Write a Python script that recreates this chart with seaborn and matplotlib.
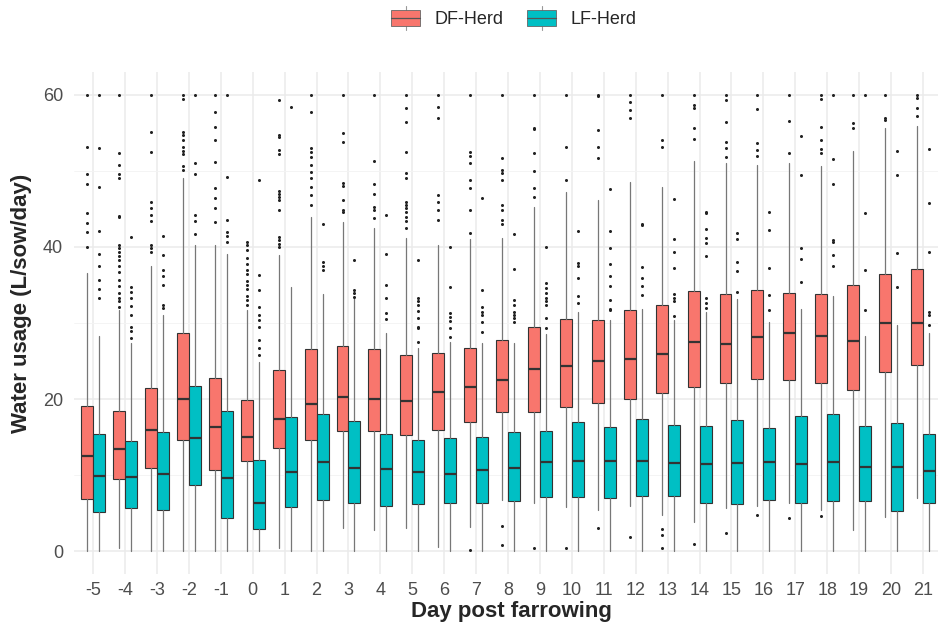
import matplotlib
matplotlib.use("Agg")
import matplotlib.pyplot as plt
from matplotlib.patches import Rectangle
from matplotlib.lines import Line2D
from matplotlib.legend_handler import HandlerBase
import seaborn as sns

# day post farrowing
days = list(range(-5, 22))

# DF herd box stats (L/sow/day)
df_q1 = [6.8, 9.5, 10.9, 14.6, 10.7, 11.9, 13.5, 14.6, 15.8, 15.8, 15.3, 15.9, 17.0, 18.3,
         18.3, 18.9, 19.5, 20.0, 20.8, 21.6, 22.1, 22.6, 22.5, 22.1, 21.2, 23.6, 24.5]
df_med = [12.5, 13.4, 15.9, 20.0, 16.3, 15.0, 17.4, 19.3, 20.3, 20.0, 19.7, 20.9, 21.6, 22.5,
          23.9, 24.3, 25.0, 25.3, 25.9, 27.5, 27.2, 28.2, 28.7, 28.3, 27.6, 30.0, 30.0]
df_q3 = [19.1, 18.4, 21.4, 28.7, 22.8, 19.9, 23.8, 26.6, 27.0, 26.6, 25.8, 26.1, 26.7, 27.7,
         29.5, 30.5, 30.4, 31.7, 32.4, 34.2, 33.8, 34.3, 33.9, 33.8, 35.0, 36.4, 37.1]
df_lo = [0, 0.4, 0, 0, 0, 0, 0.4, 0, 3.0, 2.8, 3.0, 0.5, 3.2, 6.7,
         6.3, 5.8, 5.4, 5.9, 4.7, 3.8, 5.7, 5.9, 6.3, 5.4, 2.8, 4.5, 7.0]
df_hi = [36.6, 31.7, 37.5, 49.1, 40.3, 31.7, 38.9, 43.9, 43.3, 42.5, 41.2, 40.3, 41.1, 41.2,
         45.3, 47.2, 46.2, 48.6, 47.9, 51.3, 51.0, 50.8, 51.0, 50.7, 52.6, 55.7, 55.9]
df_out = [
    [60, 53.2, 49.6, 48.3, 44.5, 43.2, 41.9, 40],
    [60, 52.4, 50.8, 49.6, 49, 44.1, 43.9, 40.3, 39.8, 39.3, 38.8, 38.3, 37.5, 36.7, 35.7,
     34.9, 33.9, 33.3, 32.9, 32.1],
    [60, 55.1, 52.5, 45.9, 45.1, 44.2, 43.4, 40.3, 39.9, 39.3],
    [60, 59.5, 55.1, 54.7, 54.1, 53.2, 52.6, 52.2, 50.7, 50.1],
    [60, 57.8, 55.8, 54.1, 51.2, 47.8, 46.4, 45.1, 43.3],
    [40.7, 40.2, 39.6, 38.6, 37.8, 37.0, 36.4, 35.5, 35.0, 34.5, 33.6, 33.0, 32.4],
    [59.3, 54.7, 54.4, 52.8, 52.2, 47.4, 47.0, 46.6, 46.2, 44.9, 41.3, 40.9, 40.4, 40.0],
    [60, 57.8, 53.0, 52.5, 51.8, 50.8, 49.9, 49.1, 47.9, 46.8, 45.5],
    [60, 55.0, 53.8, 48.4, 48.0, 46.2, 44.9, 44.6],
    [60, 51.3, 48.3, 47.0, 45.3, 44.9, 43.8],
    [60, 58.3, 56.4, 52.5, 49.7, 49.1, 45.9, 45.5, 45.1, 44.6, 44.0, 43.4, 42.5],
    [60, 58.4, 57.0, 46.8, 45.9, 44.9, 43.6],
    [60, 52.5, 51.9, 51.0, 48.8, 47.7, 44.9, 41.8, 0.1],
    [60, 51.7, 50.1, 49.7, 48.8, 45.5, 44.9, 43.6, 43.0, 3.3, 0.8],
    [60, 55.7, 55.5, 52.4, 50.0, 47.8, 46.6, 0.4],
    [60, 53.2, 48.8, 0.4],
    [60, 59.9, 55.4, 53.2, 51.7, 3.0],
    [60, 59.0, 58.0, 57.0, 1.8],
    [60, 54.1, 53.2, 2.9, 2.1, 0.4],
    [60, 58.6, 58.3, 55.7, 54.2, 0.9],
    [60, 59.3, 56.4, 53.8, 53.0, 51.8, 2.4],
    [60, 58.2, 53.6, 52.8, 52.0, 4.7],
    [60, 56.6, 52.4, 4.3],
    [60, 59.5, 55.8, 54.1, 52.9, 52.4, 4.6],
    [60, 56.3, 55.7],
    [60, 57.0, 56.7],
    [60, 59.6, 58.3, 57.2],
]

# LF herd box stats
lf_q1 = [5.1, 5.7, 5.4, 8.7, 4.3, 2.9, 5.8, 6.7, 6.4, 5.9, 6.2, 6.4, 6.3, 6.6,
         7.1, 7.1, 7.0, 7.2, 7.2, 6.3, 6.2, 6.7, 6.3, 6.6, 6.6, 5.3, 6.4]
lf_med = [9.9, 9.7, 10.1, 14.9, 9.6, 6.4, 10.4, 11.7, 11.0, 10.8, 10.4, 10.1, 10.7, 10.9,
          11.7, 11.8, 11.8, 11.8, 11.6, 11.5, 11.6, 11.7, 11.4, 11.7, 11.1, 11.1, 10.5]
lf_q3 = [15.4, 14.5, 15.7, 21.7, 18.4, 12.0, 17.6, 18.0, 17.1, 15.4, 14.6, 14.9, 15.0, 15.7,
         15.8, 17.0, 16.3, 17.4, 16.6, 16.4, 17.2, 16.2, 17.8, 18.0, 16.4, 16.8, 15.4]
lf_lo = [0] * 27
lf_hi = [28.3, 27.4, 31.0, 40.3, 39.1, 24.9, 34.7, 33.8, 33.3, 28.7, 26.7, 27.5, 27.4, 27.4,
         28.6, 31.4, 30.4, 31.8, 30.4, 31.4, 33.2, 30.1, 31.8, 33.6, 28.3, 29.7, 28.7]
lf_out = [
    [60, 53.0, 47.9, 42.1, 39.1, 37.5, 35.7, 34.5, 33.3],
    [41.3, 34.7, 34.1, 33.3, 32.3, 31.0, 29.5, 28.9, 28.0],
    [41.4, 38.9, 37.0, 36.2, 35.0, 32.4, 32.0],
    [60, 51.0, 49.6, 44.2, 43.4, 41.7],
    [60, 49.2, 43.6, 42.0, 41.4, 40.7],
    [48.8, 36.3, 34.3, 32.1, 31.0, 30.4, 29.5, 27.8, 26.7, 25.8],
    [58.4],
    [43.0, 38.0, 37.5, 37.0],
    [38.3, 34.3, 33.9, 33.4],
    [44.2, 39.1, 35.0, 33.3, 31.3, 30.5],
    [38.3, 33.3, 32.9, 32.4, 31.6, 30.7, 29.5, 29.3, 27.5],
    [40.0, 34.7, 31.3, 30.8, 30.2, 29.3, 28.2],
    [46.4, 34.3, 32.1, 31.4, 31.0, 30.1, 28.8],
    [41.7, 37.1, 33.0, 32.4, 31.5, 31.1, 30.6, 30.1],
    [40.0, 35.3, 34.6, 34.0, 33.3, 32.9, 32.4, 30.7, 29.3],
    [42.1, 37.9, 37.5, 35.9, 33.6, 32.6],
    [47.6, 42.1, 39.9, 37.8, 36.2, 34.9, 33.0, 31.9, 31.7],
    [43.0, 42.9, 37.4, 35.9, 34.8, 33.7],
    [46.3, 41.1, 39.3, 37.2, 33.8, 33.3, 32.9, 30.9],
    [44.6, 44.4, 42.4, 41.2, 40.5, 38.8, 33.3, 32.6, 32.0],
    [41.8, 41.1, 38.0, 36.8, 34.1],
    [44.6, 42.2, 37.2, 33.7, 31.7],
    [54.6, 49.5, 39.9, 38.4, 35.4],
    [60, 51.6, 48.3, 40.9, 40.6, 38.9, 37.5],
    [60, 44.5, 37.0, 31.7],
    [52.6, 49.5, 39.2, 34.7],
    [52.9, 45.8, 39.3, 31.4, 31.0, 29.7],
]

herds = ["DF-Herd", "LF-Herd"]
colors = ["#F8766D", "#00BFC4"]


def make_stats(q1, med, q3, lo, hi, out):
    return [dict(q1=a, med=b, q3=c, whislo=d, whishi=e, fliers=f)
            for a, b, c, d, e, f in zip(q1, med, q3, lo, hi, out)]


class BoxKey(HandlerBase):
    # ggplot-like boxplot legend key: box, median and whisker
    def create_artists(self, legend, orig_handle, xd, yd, w, h, fontsize, trans):
        col = orig_handle.get_facecolor()
        cx = xd * -1 + w / 2
        by = -yd
        whisk = Line2D([cx, cx], [by, by + h], color="#999999", linewidth=0.8,
                       transform=trans)
        box = Rectangle((-xd, by + 0.18 * h), w, 0.64 * h, facecolor=col,
                        edgecolor="#666666", linewidth=0.6, transform=trans)
        med = Line2D([-xd, -xd + w], [by + h / 2, by + h / 2], color="#555555",
                     linewidth=0.9, transform=trans)
        return [whisk, box, med]


sns.set_theme(style="whitegrid")
plt.rcParams["font.family"] = ["Liberation Sans", "DejaVu Sans"]

fig = plt.figure(figsize=(9.38, 6.32), dpi=100)
ax = fig.add_axes([74 / 938, 1 - 574 / 632, (938 - 74) / 938, (574 - 72) / 632])

all_stats = [make_stats(df_q1, df_med, df_q3, df_lo, df_hi, df_out),
             make_stats(lf_q1, lf_med, lf_q3, lf_lo, lf_hi, lf_out)]
offsets = [-0.1875, 0.1875]
for stats, off, col in zip(all_stats, offsets, colors):
    ax.bxp(stats, positions=[i + off for i in range(len(days))], widths=0.375,
           patch_artist=True, showcaps=False, manage_ticks=False,
           boxprops=dict(facecolor=col, edgecolor="#333333", linewidth=0.8),
           medianprops=dict(color="#333333", linewidth=1.6),
           whiskerprops=dict(color="#777777", linewidth=0.9),
           flierprops=dict(marker="o", markersize=2.2, markerfacecolor="#222222",
                           markeredgecolor="none"))

ax.set_xlim(-0.6, len(days) - 1 + 0.47)
ax.set_ylim(-3, 63)
ax.set_xticks(range(len(days)))
ax.set_xticklabels([str(d) for d in days])
ax.set_yticks([0, 20, 40, 60])
ax.set_yticks([10, 30, 50], minor=True)
ax.grid(True, which="major", color="#EBEBEB", linewidth=1.1)
ax.grid(True, which="minor", axis="y", color="#F3F3F3", linewidth=0.6)
ax.set_axisbelow(True)
for s in ax.spines.values():
    s.set_visible(False)
ax.tick_params(axis="both", which="both", length=0, labelsize=13, labelcolor="#4D4D4D")
ax.tick_params(axis="x", pad=6)
ax.tick_params(axis="y", pad=8)

fig.text(22 / 938, 1 - 303 / 632, "Water usage (L/sow/day)", rotation=90,
         ha="center", va="center", fontsize=16, fontweight="bold")
fig.text(511 / 938, 1 - 612 / 632, "Day post farrowing",
         ha="center", va="center", fontsize=16, fontweight="bold")

handles = [Rectangle((0, 0), 1, 1, facecolor=c) for c in colors]
fig.legend(handles, herds, loc="center", bbox_to_anchor=(514 / 938, 1 - 18 / 632),
           ncol=2, frameon=False, fontsize=13, handlelength=1.6, handleheight=1.7,
           columnspacing=1.3, handletextpad=0.8,
           handler_map={Rectangle: BoxKey()})

fig.savefig("out.png", dpi=100)
